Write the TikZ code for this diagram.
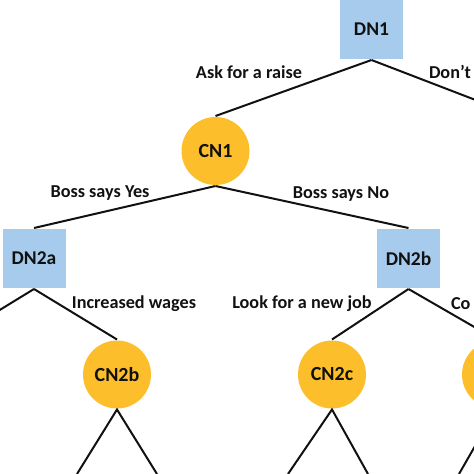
\documentclass[tikz,border=0pt]{standalone}
\usepackage{fontspec}
\setmainfont{Carlito}
\definecolor{DecBlue}{HTML}{A6CBEC}
\definecolor{ChanceGold}{HTML}{FDBE2C}
\definecolor{TreeInk}{HTML}{111111}

\tikzset{
  decbox/.style={rectangle,fill=DecBlue,minimum width=63pt,minimum height=59pt,inner sep=0pt,font=\bfseries\fontsize{19.5}{22}\selectfont},
  chance/.style={circle,fill=ChanceGold,minimum size=68pt,inner sep=0pt,font=\bfseries\fontsize{20}{22}\selectfont},
  choice/.style={font=\bfseries\fontsize{18.2}{20}\selectfont,inner sep=0pt}
}

\begin{document}
\begin{tikzpicture}[x=1pt,y=-1pt,draw=TreeInk,text=TreeInk,line width=2pt]
  \useasboundingbox (0,0) rectangle (474,474);
  \clip (0,0) rectangle (474,474);

  \node[decbox] (dn1) at (371.5,29.5) {DN1};
  \node[chance] (cn1) at (215.5,151) {CN1};
  \node[decbox] (dn2a) at (34,258.5) {DN2a};
  \node[decbox] (dn2b) at (408.5,258.5) {DN2b};
  \node[chance] (cn2b) at (117,374.5) {CN2b};
  \node[chance] (cn2c) at (332,374.5) {CN2c};
  \node[chance] (cn2d) at (496,374.5) {};

  \coordinate (noraise) at (525,119);
  \coordinate (dn2aleft) at (-51,341);
  \coordinate (b1) at (77,474);
  \coordinate (b2) at (157,474);
  \coordinate (c1) at (288,474);
  \coordinate (c2) at (368,474);
  \coordinate (d1) at (459,474);

  \draw (dn1.south) -- (cn1.north);
  \draw (dn1.south) -- (noraise);
  \draw (cn1.south) -- (dn2a.north);
  \draw (cn1.south) -- (dn2b.north);
  \draw (dn2a.south) -- (dn2aleft);
  \draw (dn2a.south) -- (cn2b.north);
  \draw (dn2b.south) -- (cn2c.north);
  \draw (dn2b.south) -- (cn2d.north);
  \draw (b1) -- (cn2b.south) -- (b2);
  \draw (c1) -- (cn2c.south) -- (c2);
  \draw (d1) -- (cn2d.south);

  \node[choice] (ask) at (249,72) {Ask for a raise};
  \node[choice,anchor=west] (dont) at (428,72) {Don’t};
  \node[choice] (yes) at (100,193) {Boss says Yes};
  \node[choice] (no) at (341,194) {Boss says No};
  \node[choice] (wages) at (134,304) {Increased wages};
  \node[choice] (newjob) at (302,304) {Look for a new job};
  \node[choice,anchor=west] (co) at (450,304) {Co};
\end{tikzpicture}
\end{document}
